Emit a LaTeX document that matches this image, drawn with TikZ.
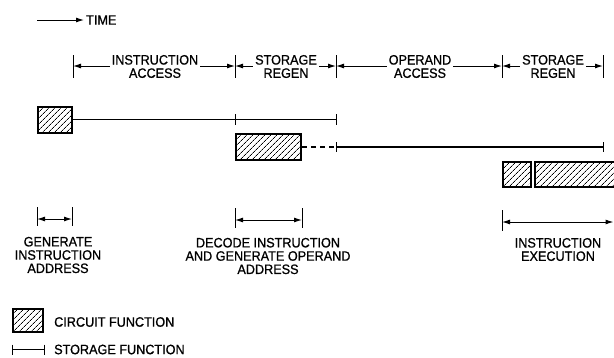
\documentclass[tikz,border=0pt]{standalone}
\usepackage{fontspec}
\setmainfont{Liberation Sans}
\newfontfamily\labfont{Liberation Sans}[FakeBold=0.8, FakeStretch=0.93]
\usetikzlibrary{arrows.meta,patterns.meta}
\begin{document}
\begin{tikzpicture}[x=1pt,y=-1pt,
  lab/.style={font=\labfont\fontsize{13.6}{13.3}\selectfont, align=center, inner ysep=0pt, inner xsep=2pt},
  hatch/.style={draw, line width=2pt, pattern={Lines[angle=45,distance=4pt,line width=0.7pt]}, inner sep=0pt},
  tk/.style={line width=0.8pt},
  ln/.style={line width=1.2pt},
  arr/.style={line width=1pt, -{Latex[length=8pt,width=5pt]}},
  darr/.style={line width=1pt, {Latex[length=8pt,width=5pt]}-{Latex[length=8pt,width=5pt]}},
]
\useasboundingbox (0,0) rectangle (614,357);
\clip (0,0) rectangle (614,357);

% TIME
\coordinate (ts) at (37,20);
\node[lab, anchor=west] (tm) at (84,20) {TIME};
\draw[arr] (ts) -- (tm.west);

% top dimension row
\coordinate (t1) at (73,66);
\coordinate (t2) at (235,66);
\coordinate (t3) at (336,66);
\coordinate (t4) at (502,66);
\coordinate (t5) at (603,66);
\foreach \x in {73,235,336,502,603} \draw[tk] (\x,55) -- (\x,78);
\node[lab] (ia) at (155,66.5) {INSTRUCTION\\ACCESS};
\node[lab] (sr1) at (286,66.5) {STORAGE\\REGEN};
\node[lab] (oa) at (420,66.5) {OPERAND\\ACCESS};
\node[lab] (sr2) at (553,66.5) {STORAGE\\REGEN};
\draw[arr] (ia.west |- t1) -- (t1);
\draw[arr] (ia.east |- t1) -- (t2);
\draw[arr] (sr1.west |- t1) -- (t2);
\draw[arr] (sr1.east |- t1) -- (t3);
\draw[arr] (oa.west |- t1) -- (t3);
\draw[arr] (oa.east |- t1) -- (t4);
\draw[arr] (sr2.west |- t1) -- (t4);
\draw[arr] (sr2.east |- t1) -- (t5);

% row 1
\node[hatch, minimum width=34pt, minimum height=26pt] (b1) at (55,119.5) {};
\coordinate (r1e) at (336,119.5);
\draw[ln] (b1.east) -- (r1e);
\draw[tk] (235,114) -- (235,125);
\draw[tk] (336,114) -- (336,125);

% row 2
\node[hatch, minimum width=65pt, minimum height=26pt] (b2) at (268.5,147) {};
\coordinate (r2a) at (336,147);
\coordinate (r2e) at (603,147);
\draw[ln, dash pattern=on 5pt off 4pt] (b2.east) -- (r2a);
\draw[ln] (r2a) -- (r2e);
\draw[tk] (336,142) -- (336,152);
\draw[tk] (603,142) -- (603,152);

% row 3
\node[hatch, minimum width=28pt, minimum height=25pt] (b3) at (516.5,174.5) {};
\node[hatch, minimum width=104pt, minimum height=25pt] (b4) at (587,174.5) {};

% bottom dimensions
\draw[tk] (37,207) -- (37,226);
\draw[tk] (72,207) -- (72,226);
\coordinate (g1) at (37,219);
\coordinate (g2) at (72,219);
\draw[darr] (g1) -- (g2);
\node[lab] (gl) at (58,255) {GENERATE\\INSTRUCTION\\ADDRESS};

\draw[tk] (235,208) -- (235,228);
\draw[tk] (302,208) -- (302,228);
\coordinate (d1) at (235,220);
\coordinate (d2) at (302,220);
\draw[darr] (d1) -- (d2);
\node[lab] (dl) at (268,256) {DECODE INSTRUCTION\\AND GENERATE OPERAND\\ADDRESS};

\draw[tk] (502,210) -- (502,231);
\coordinate (e1) at (502,222);
\coordinate (e2) at (613.5,222);
\draw[darr] (e1) -- (e2);
\node[lab] (el) at (558,249.5) {INSTRUCTION\\EXECUTION};

% legend
\node[hatch, minimum width=30pt, minimum height=23pt] (lb) at (28,320.5) {};
\node[lab, anchor=west] (lc) at (52,322) {CIRCUIT FUNCTION};
\coordinate (s1) at (12,349.5);
\coordinate (s2) at (44,349.5);
\draw[ln] (s1) -- (s2);
\draw[tk] (12,344.5) -- (12,354.5);
\draw[tk] (44,344.5) -- (44,354.5);
\node[lab, anchor=west] (ls) at (52,349.5) {STORAGE FUNCTION};
\end{tikzpicture}
\end{document}
